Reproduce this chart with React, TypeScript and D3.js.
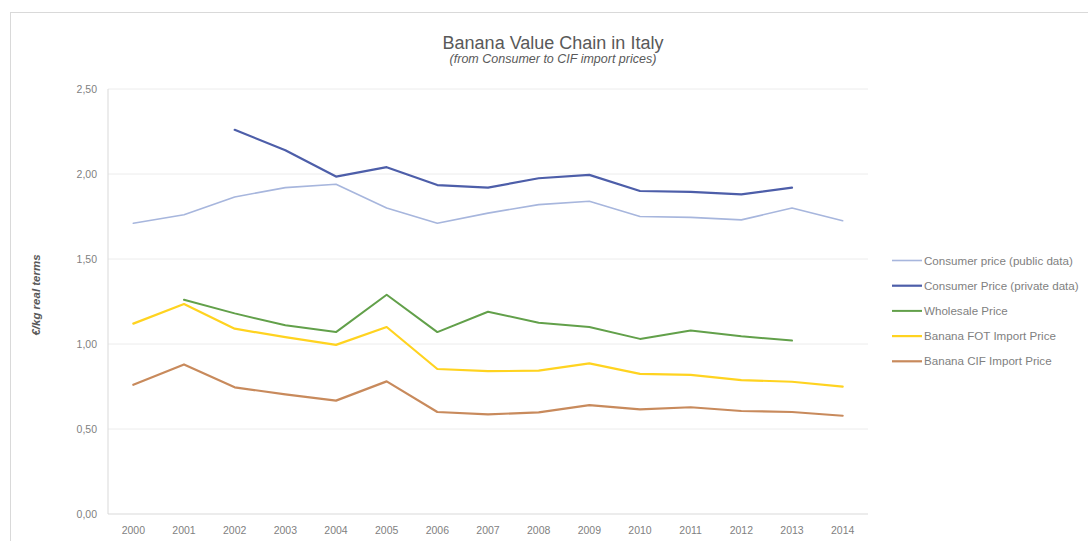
import React from "react";
import * as d3 from "d3";

const years = ["2000","2001","2002","2003","2004","2005","2006","2007","2008","2009","2010","2011","2012","2013","2014"];
const consumerPublic: (number|null)[] = [1.71,1.76,1.865,1.92,1.94,1.80,1.71,1.77,1.82,1.84,1.75,1.745,1.73,1.80,1.725];
const consumerPrivate: (number|null)[] = [null,null,2.26,2.14,1.985,2.04,1.935,1.92,1.975,1.995,1.90,1.895,1.88,1.92,null];
const wholesale: (number|null)[] = [null,1.26,1.18,1.11,1.07,1.29,1.07,1.19,1.125,1.10,1.03,1.08,1.045,1.02,null];
const fotImport: (number|null)[] = [1.12,1.235,1.09,1.04,0.995,1.10,0.853,0.84,0.843,0.886,0.824,0.818,0.788,0.778,0.749];
const cifImport: (number|null)[] = [0.76,0.88,0.745,0.704,0.667,0.78,0.60,0.586,0.598,0.64,0.616,0.628,0.606,0.60,0.578];
const yTicks = [0, 0.5, 1, 1.5, 2, 2.5];

const series = [
  { name: "Consumer price (public data)", values: consumerPublic, color: "#a7b6dd", width: 1.6 },
  { name: "Consumer Price (private data)", values: consumerPrivate, color: "#4d5ea9", width: 2.2 },
  { name: "Wholesale Price", values: wholesale, color: "#62a04a", width: 2 },
  { name: "Banana FOT Import Price", values: fotImport, color: "#ffd320", width: 2.2 },
  { name: "Banana CIF Import Price", values: cifImport, color: "#c88a5c", width: 2.2 },
];

const W = 1088, H = 541;
const left = 108, right = 868, top = 89, bottom = 514;
const font = "'Liberation Sans', Arial, sans-serif";

export default function App() {
  const x = d3.scaleBand<string>().domain(years).range([left, right]);
  const y = d3.scaleLinear().domain([0, 2.5]).range([bottom, top]);
  const fmt = (v: number) => v.toFixed(2).replace(".", ",");
  const line = d3.line<number|null>()
    .defined((d) => d !== null)
    .x((_, i) => (x(years[i]) as number) + x.bandwidth() / 2)
    .y((d) => y(d as number));

  return (
    <svg width={W} height={H} style={{ position: "absolute", left: 0, top: 0, background: "#fff" }}>
      <rect x={10.5} y={12.5} width={1100} height={540} fill="#fff" stroke="#d9d9d9" />
      <text x={553} y={49} textAnchor="middle" fontFamily={font} fontSize={18} fill="#595959">Banana Value Chain in Italy</text>
      <text x={553} y={63} textAnchor="middle" fontFamily={font} fontSize={12.5} fontStyle="italic" fill="#595959">(from Consumer to CIF import prices)</text>
      {yTicks.map((t) => (
        <g key={t}>
          {t > 0 && <line x1={left} x2={right} y1={y(t)} y2={y(t)} stroke="#ececec" strokeWidth={1} />}
          <text x={97} y={y(t) + 4} textAnchor="end" fontFamily={font} fontSize={10.5} fill="#7f7f7f">{fmt(t)}</text>
        </g>
      ))}
      <line x1={left} x2={left} y1={top} y2={bottom} stroke="#d9d9d9" />
      <line x1={left} x2={right} y1={bottom} y2={bottom} stroke="#d9d9d9" />
      {years.map((yr) => (
        <text key={yr} x={(x(yr) as number) + x.bandwidth() / 2} y={534} textAnchor="middle" fontFamily={font} fontSize={10.5} fill="#7f7f7f">{yr}</text>
      ))}
      <text transform={`translate(40,295) rotate(-90)`} textAnchor="middle" fontFamily={font} fontSize={11.5} fontStyle="italic" fontWeight="bold" fill="#595959">€/kg real terms</text>
      {series.map((s) => (
        <path key={s.name} d={line(s.values) || ""} fill="none" stroke={s.color} strokeWidth={s.width} strokeLinejoin="round" strokeLinecap="round" />
      ))}
      {series.map((s, i) => {
        const ly = 260.5 + i * 25.2;
        return (
          <g key={s.name}>
            <line x1={892} x2={922} y1={ly} y2={ly} stroke={s.color} strokeWidth={s.width} />
            <text x={924} y={ly + 4} fontFamily={font} fontSize={11.6} fill="#7f7f7f">{s.name}</text>
          </g>
        );
      })}
    </svg>
  );
}
